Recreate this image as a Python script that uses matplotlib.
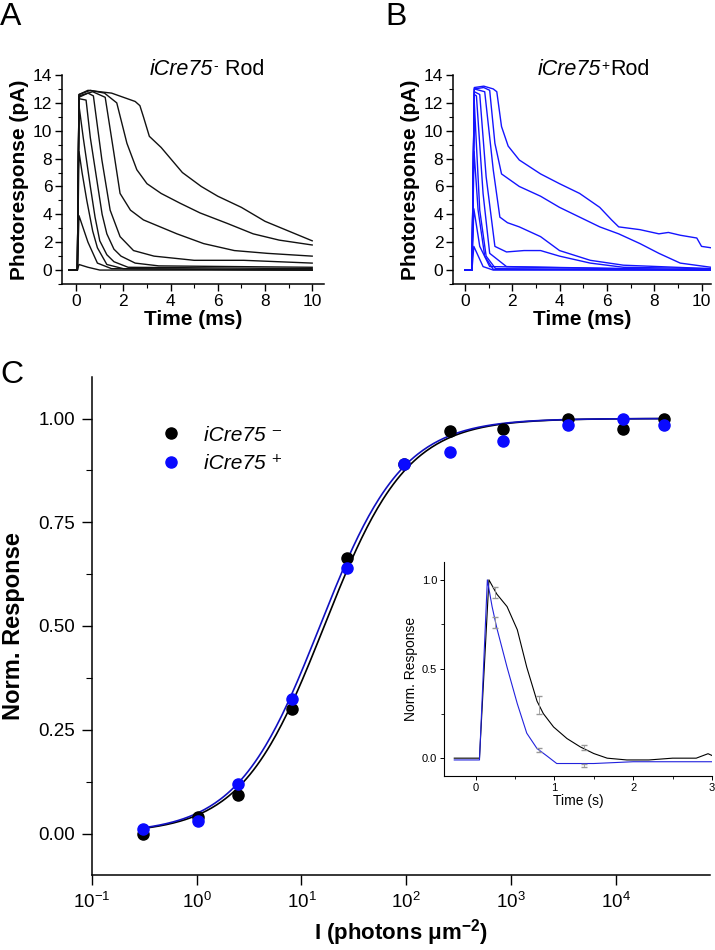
import matplotlib

matplotlib.use("Agg")

import matplotlib.pyplot as plt
import numpy as np
from matplotlib.ticker import FixedLocator, MultipleLocator, NullLocator

plt.rcParams["font.family"] = ["Liberation Sans", "DejaVu Sans"]
plt.rcParams["mathtext.fontset"] = "custom"
plt.rcParams["mathtext.rm"] = "Liberation Sans"
plt.rcParams["mathtext.it"] = "Liberation Sans:italic"
plt.rcParams["mathtext.bf"] = "Liberation Sans:bold"

W, H = 715, 950
BLACK = "#111111"
BLUE = "#1414ff"

# ---- panel A: iCre75- rod responses (time ms, current pA) ----
a_t = [
    [-0.3, 0.05, 0.12, 0.5, 1.0, 1.5, 2.0, 2.5, 2.7, 2.85, 3.1, 3.6, 4.0, 4.5, 5.3, 6.0, 7.0, 8.0, 9.0, 10.0],
    [-0.3, 0.05, 0.12, 0.6, 1.2, 1.72, 2.15, 2.57, 3.0, 3.6, 4.4, 5.25, 6.4, 7.5, 8.6, 10.0],
    [-0.3, 0.05, 0.12, 0.7, 1.23, 1.58, 1.86, 2.3, 2.85, 3.56, 4.27, 5.4, 6.7, 8.1, 10.0],
    [-0.3, 0.05, 0.12, 0.5, 0.73, 1.09, 1.44, 1.86, 2.43, 3.3, 5.0, 7.1, 10.0],
    [-0.3, 0.05, 0.12, 0.42, 0.6, 0.9, 1.1, 1.3, 1.6, 1.9, 2.5, 3.5, 10.0],
    [-0.3, 0.05, 0.12, 0.3, 0.6, 0.8, 1.0, 1.3, 1.6, 2.2, 10.0],
    [-0.3, 0.05, 0.12, 0.25, 0.45, 0.7, 0.9, 1.3, 2.0, 10.0],
    [-0.3, 0.05, 0.12, 0.3, 0.5, 0.9, 1.5, 10.0],
    [-0.3, 0.05, 0.12, 0.5, 1.0, 10.0],
]
a_y = [
    [0, 0, 12.6, 12.9, 12.8, 12.7, 12.4, 12.1, 11.8, 11.0, 9.6, 8.8, 8.0, 7.0, 6.0, 5.3, 4.5, 3.5, 2.8, 2.1],
    [0, 0, 12.6, 12.9, 12.7, 12.0, 9.1, 7.2, 6.2, 5.5, 4.8, 4.1, 3.35, 2.6, 2.15, 1.8],
    [0, 0, 12.5, 12.8, 12.4, 8.6, 5.5, 4.3, 3.6, 3.1, 2.6, 1.9, 1.4, 1.2, 1.0],
    [0, 0, 12.4, 12.7, 12.5, 7.9, 4.3, 2.4, 1.4, 1.0, 0.7, 0.7, 0.5],
    [0, 0, 12.3, 12.2, 9.5, 6.2, 4.0, 2.6, 1.5, 1.0, 0.5, 0.3, 0.2],
    [0, 0, 11.8, 9.5, 6.0, 3.8, 2.1, 1.1, 0.6, 0.2, 0.1],
    [0, 0, 8.5, 7.0, 5.0, 2.8, 1.6, 0.4, 0.1, 0.0],
    [0, 0, 3.9, 3.0, 2.0, 0.5, 0.1, 0.0],
    [0, 0, 0.4, 0.2, 0.0, 0.0],
]

# ---- panel B: iCre75+ rod responses ----
b_t = [
    [0, 0.3, 0.4, 0.8, 1.2, 1.35, 1.55, 1.83, 2.3, 3.2, 4.0, 4.85, 5.7, 6.2, 6.5, 7.4, 8.2, 8.6, 9.1, 9.8, 10.0, 10.4],
    [0, 0.3, 0.4, 0.8, 1.05, 1.27, 1.55, 2.3, 3.2, 4.0, 4.85, 5.7, 6.5, 7.4, 8.2, 9.1, 10.4],
    [0, 0.3, 0.4, 0.84, 1.2, 1.48, 1.8, 2.3, 3.2, 4.0, 5.3, 6.7, 10.4],
    [0, 0.3, 0.4, 0.63, 0.9, 1.27, 1.76, 2.5, 3.2, 4.0, 5.3, 6.7, 10.4],
    [0, 0.3, 0.4, 0.49, 0.77, 1.05, 1.76, 10.4],
    [0, 0.3, 0.4, 0.63, 0.9, 1.3, 10.4],
    [0, 0.3, 0.39, 0.56, 0.84, 1.2, 10.4],
    [0, 0.3, 0.38, 0.63, 1.05, 10.4],
    [0, 0.3, 0.38, 0.77, 1.2, 10.4],
]
b_y = [
    [0, 0, 13.1, 13.2, 13.0, 12.8, 10.3, 8.9, 7.9, 6.9, 6.2, 5.5, 4.5, 3.6, 3.1, 2.9, 2.6, 2.7, 2.5, 2.3, 1.7, 1.6],
    [0, 0, 13.0, 13.1, 12.9, 9.1, 6.9, 6.0, 5.3, 4.5, 3.8, 3.1, 2.6, 1.9, 1.2, 0.5, 0.2],
    [0, 0, 13.0, 12.8, 7.2, 3.8, 3.4, 3.1, 2.4, 1.4, 0.7, 0.35, 0.1],
    [0, 0, 12.8, 12.6, 6.7, 1.7, 1.3, 1.4, 1.4, 1.0, 0.5, 0.2, 0.1],
    [0, 0, 12.6, 12.5, 5.5, 1.2, 0.25, 0.0],
    [0, 0, 12.0, 4.3, 1.0, 0.1, 0.0],
    [0, 0, 8.5, 4.3, 1.0, 0.05, 0.0],
    [0, 0, 4.4, 1.7, 0.25, 0.0],
    [0, 0, 1.7, 0.25, 0.0, 0.0],
]

# ---- panel C: intensity-response ----
intensity = [0.31, 1.02, 2.5, 8.1, 27, 95, 260, 830, 3500, 11700, 29000]
resp_minus = [-0.002, 0.04, 0.093, 0.30, 0.665, 0.89, 0.97, 0.975, 1.0, 0.975, 1.0]
resp_plus = [0.01, 0.03, 0.12, 0.325, 0.64, 0.89, 0.92, 0.945, 0.985, 1.0, 0.985]
# Hill fit parameters (I_half, n)
fit_minus = (16.5, 1.1)
fit_plus = (15.0, 1.1)

# ---- inset: normalized mean responses (time s) ----
ins_t_minus = [-0.27, 0.05, 0.17, 0.27, 0.40, 0.53, 0.65, 0.78, 0.86, 0.99, 1.16, 1.33, 1.5, 1.67, 1.92, 2.2, 2.5, 2.8, 2.95, 3.0]
ins_y_minus = [0.0, 0.0, 1.0, 0.92, 0.85, 0.72, 0.51, 0.32, 0.25, 0.175, 0.11, 0.063, 0.026, 0.0, -0.01, -0.01, 0.0, 0.0, 0.025, 0.015]
ins_t_plus = [-0.27, 0.05, 0.15, 0.21, 0.27, 0.40, 0.53, 0.65, 0.78, 0.91, 1.03, 1.5, 2.0, 2.5, 3.0]
ins_y_plus = [-0.01, -0.01, 1.0, 0.85, 0.73, 0.51, 0.305, 0.14, 0.054, 0.011, -0.03, -0.03, -0.02, -0.02, -0.02]
err_t = [0.25, 0.81, 1.37]
err_minus_y = [0.93, 0.30, 0.06]
err_minus_e = [0.03, 0.05, 0.015]
err_plus_y = [0.76, 0.045, -0.04]
err_plus_e = [0.03, 0.01, 0.01]


def px_axes(fig, left, top, right, bottom):
    return fig.add_axes([left / W, 1 - bottom / H, (right - left) / W, (bottom - top) / H])


def style_axes(ax, fs=12.5):
    for side in ("top", "right"):
        ax.spines[side].set_visible(False)
    for side in ("left", "bottom"):
        ax.spines[side].set_linewidth(1.1)
    ax.tick_params(which="major", direction="out", length=5, width=1.0, labelsize=fs, pad=2)
    ax.tick_params(which="minor", direction="out", length=3, width=0.8)


def trace_panel(ax, ts, ys, color, xlim):
    for t, y in zip(ts, ys):
        ax.plot(t, y, color=color, lw=1.0)
    ax.set_xlim(*xlim)
    ax.set_ylim(-1, 14)
    ax.xaxis.set_major_locator(MultipleLocator(2))
    ax.xaxis.set_minor_locator(MultipleLocator(1))
    ax.yaxis.set_major_locator(MultipleLocator(2))
    ax.yaxis.set_minor_locator(MultipleLocator(1))
    style_axes(ax)
    ax.set_xlabel("Time (ms)", fontsize=15, fontweight="bold", labelpad=1)
    ax.set_ylabel("Photoresponse (pA)", fontsize=15, fontweight="bold", labelpad=3)


def hill(i, i_half, n):
    return i**n / (i**n + i_half**n)


fig = plt.figure(figsize=(W / 100, H / 100), dpi=100)

ax_a = px_axes(fig, 62, 75, 324, 284)
trace_panel(ax_a, a_t, a_y, BLACK, (-0.6, 10.5))

ax_b = px_axes(fig, 453, 75, 711, 284)
trace_panel(ax_b, b_t, b_y, BLUE, (-0.5, 10.4))

# panel titles: italic genotype, superscript sign, upright "Rod"
for x0, sign, tail in ((150, "-", " Rod"), (538, "+", "Rod")):
    t1 = fig.text(x0 / W, 1 - 75 / H, "iCre75", style="italic", fontsize=15.5,
                  ha="left", va="baseline")
    sup = ax_a.annotate(sign, xy=(1.0, 1.02), xycoords=t1, fontsize=10,
                        ha="left", va="top", annotation_clip=False)
    ax_a.annotate(tail, xy=(1.0, 0.0), xycoords=(sup, t1), xytext=(0.5, 0),
                  textcoords="offset points", fontsize=15.5, ha="left", va="bottom",
                  annotation_clip=False)

ax_c = px_axes(fig, 92, 377, 710, 875)
i_fit = np.logspace(np.log10(0.31), np.log10(30000), 300)
ax_c.plot(i_fit, hill(i_fit, *fit_minus), color="black", lw=1.2, zorder=2)
ax_c.plot(i_fit, hill(i_fit, *fit_plus), color="#1010c0", lw=1.2, zorder=2)
ax_c.plot(intensity, resp_minus, "o", color="black", ms=8, zorder=3, label="iCre75 ⁻")
ax_c.plot(intensity, resp_plus, "o", color="#0a0aff", ms=8, zorder=4, label="iCre75 ⁺")
ax_c.set_xscale("log")
ax_c.set_xlim(0.1, 10**4.9)
ax_c.set_ylim(-0.1, 1.1)
ax_c.xaxis.set_major_locator(FixedLocator([0.1, 1, 10, 100, 1000, 10000]))
ax_c.xaxis.set_minor_locator(NullLocator())
ax_c.yaxis.set_major_locator(FixedLocator([0, 0.25, 0.5, 0.75, 1.0]))
ax_c.yaxis.set_minor_locator(FixedLocator([0.125, 0.375, 0.625, 0.875]))
ax_c.yaxis.set_major_formatter(lambda v, pos: f"{v:.2f}")
ax_c.xaxis.set_major_formatter(lambda v, pos: rf"$10^{{{int(round(np.log10(v)))}}}$")
style_axes(ax_c, fs=13.5)
ax_c.tick_params(which="major", length=7, pad=5)
ax_c.tick_params(which="minor", length=4)
ax_c.set_ylabel("Norm. Response", fontsize=17, fontweight="bold", labelpad=10)
ax_c.set_xlabel(r"I (photons μm$^{\mathbf{-2}}$)", fontsize=16, fontweight="bold", labelpad=4)
leg = ax_c.legend(loc="upper left", bbox_to_anchor=(0.064, 0.94), frameon=False, fontsize=15,
                  handletextpad=0.6, labelspacing=0.45)
for txt in leg.get_texts():
    txt.set_fontstyle("italic")

ax_i = px_axes(fig, 444, 562, 712, 776)
ax_i.plot(ins_t_minus, ins_y_minus, color="black", lw=0.8)
ax_i.plot(ins_t_plus, ins_y_plus, color="#2222dd", lw=0.8)
ax_i.errorbar(err_t, err_minus_y, yerr=err_minus_e, fmt="none", ecolor="#999999", elinewidth=0.6, capsize=2)
ax_i.errorbar(err_t, err_plus_y, yerr=err_plus_e, fmt="none", ecolor="#999999", elinewidth=0.6, capsize=2)
ax_i.set_xlim(-0.4, 3)
ax_i.set_ylim(-0.1, 1.1)
ax_i.xaxis.set_major_locator(MultipleLocator(1))
ax_i.xaxis.set_minor_locator(MultipleLocator(0.5))
ax_i.yaxis.set_major_locator(MultipleLocator(0.5))
ax_i.yaxis.set_minor_locator(MultipleLocator(0.25))
style_axes(ax_i, fs=8)
for side in ("left", "bottom"):
    ax_i.spines[side].set_linewidth(0.8)
ax_i.tick_params(which="major", length=3, width=0.7)
ax_i.tick_params(which="minor", length=2, width=0.6)
ax_i.set_xlabel("Time (s)", fontsize=10, labelpad=1)
ax_i.set_ylabel("Norm. Response", fontsize=10, labelpad=3)

fig.text(0 / W, 1 - 2 / H, "A", fontsize=23, va="top", ha="left")
fig.text(385 / W, 1 - 2 / H, "B", fontsize=23, va="top", ha="left")
fig.text(0 / W, 1 - 360 / H, "C", fontsize=23, va="top", ha="left")

fig.savefig("out.png", dpi=100)
plt.close(fig)
